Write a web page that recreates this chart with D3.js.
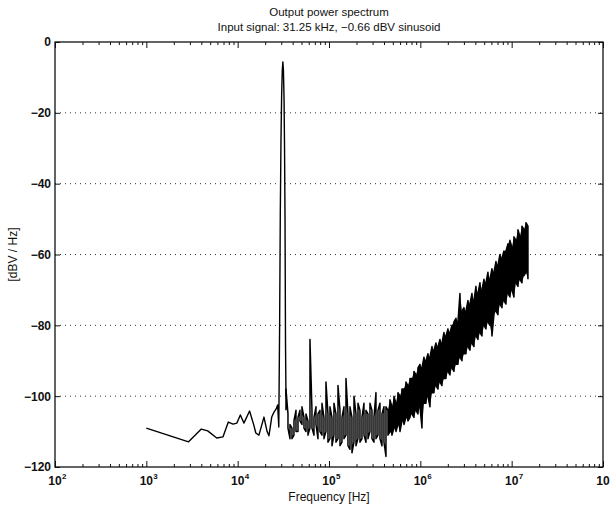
<!DOCTYPE html>
<html>
<head>
<meta charset="utf-8">
<script src="https://cdn.jsdelivr.net/npm/d3@7"></script>
<style>
body { margin: 0; background: #fff; }
text { font-family: "Liberation Sans", Arial, Helvetica, sans-serif; fill: #111; }
</style>
</head>
<body>
<div id="chart"></div>
<script>
// spectrum below the noise floor hump, including the 31.25 kHz tone
var lowFreq = [1000, 2900, 4000, 4700, 5900, 6900, 7900, 8900, 9800, 10700, 11700, 13500, 15000, 15800, 17100,
  19400, 21000, 22000, 23600, 25000, 26400, 27400, 28200, 28800, 29300, 29800, 30300, 30800, 31250, 31700,
  32200, 32600, 33000, 33400, 33800];
var lowDb = [-109, -112.9, -109.3, -109.8, -111.8, -111.5, -107.3, -107.9, -107.6, -105.3, -107.6, -104.2, -108.1, -110.4, -111,
  -105.9, -110, -111.2, -105.9, -104.5, -103.6, -102.5, -108.7, -80, -48, -28, -15, -8, -5.6, -8,
  -16, -30, -50, -85, -100];

// dense part: max / min of the spectrum per display bin
var noiseFreq = [33800, 35550, 37390, 39320, 41350, 43490, 45740, 48100, 50590, 53210,
  55960, 58850, 61890, 65090, 68460, 72000, 75720, 79630, 83750, 88080,
  92640, 97430, 102500, 107800, 113300, 119200, 125400, 131900, 138700, 145800,
  153400, 161300, 169700, 178400, 187700, 197400, 207600, 218300, 229600, 241500,
  254000, 267100, 280900, 295400, 310700, 326800, 343700, 361500, 380200, 399800,
  420500, 442200, 465100, 489200, 514400, 541000, 569000, 598400, 629400, 661900,
  696100, 732100, 770000, 809800, 851700, 895700, 942000, 990700, 1042000, 1096000,
  1152000, 1212000, 1275000, 1341000, 1410000, 1483000, 1560000, 1640000, 1725000, 1814000,
  1908000, 2007000, 2110000, 2220000, 2334000, 2455000, 2582000, 2716000, 2856000, 3004000,
  3159000, 3322000, 3494000, 3675000, 3865000, 4065000, 4275000, 4496000, 4728000, 4973000,
  5230000, 5500000, 5785000, 6084000, 6398000, 6729000, 7077000, 7443000, 7828000, 8232000,
  8658000, 9106000, 9577000, 10070000, 10590000, 11140000, 11720000, 12320000, 12960000, 13630000,
  14340000, 15080000];
var noiseMax = [-98, -105, -108, -109, -107, -104, -106, -104, -103, -106,
  -105, -107, -84, -104, -106, -103, -105, -104, -102, -106,
  -96, -105, -103, -106, -102, -105, -97, -104, -106, -103,
  -95, -105, -103, -106, -100, -105, -102, -104, -106, -102,
  -104, -105, -102, -104, -106, -99, -104, -102, -105, -103,
  -103, -104, -101, -103, -100, -102, -99, -100, -98, -98,
  -96, -97, -95, -95, -93, -94, -92, -91, -92, -89,
  -90, -88, -89, -86, -87, -85, -86, -84, -85, -82,
  -83, -81, -82, -80, -79, -78, -79, -71, -76, -75,
  -76, -73, -74, -71, -73, -69, -71, -68, -70, -67,
  -68, -65, -67, -64, -65, -62, -63, -60, -61, -59,
  -59, -57, -56, -58, -55, -56, -53, -55, -52, -53,
  -51, -52];
var noiseMin = [-104, -109, -112, -112, -111, -110, -110, -107, -108, -109,
  -110, -111, -109, -109, -111, -108, -112, -110, -111, -112,
  -110, -113, -112, -114, -111, -113, -112, -114, -113, -112,
  -111, -114, -115, -116, -113, -114, -112, -113, -112, -111,
  -113, -112, -110, -112, -113, -112, -111, -112, -114, -113,
  -117, -111, -110, -111, -109, -110, -108, -110, -107, -108,
  -106, -107, -106, -105, -106, -104, -105, -103, -109, -102,
  -102, -100, -103, -99, -99, -97, -98, -96, -97, -95,
  -95, -93, -94, -92, -93, -91, -91, -89, -90, -88,
  -88, -86, -87, -85, -86, -83, -84, -82, -83, -80,
  -81, -79, -80, -83, -77, -76, -77, -74, -75, -73,
  -74, -71, -72, -70, -72, -68, -69, -67, -68, -66,
  -65, -67];

var yTicks = [0, -20, -40, -60, -80, -100, -120];
var gridLevels = [-20, -40, -60, -80, -100];
var decades = [2, 3, 4, 5, 6, 7, 8];

var width = 610, height = 506;
var plotL = 55, plotR = 603, plotT = 42, plotB = 467;

var svg = d3.select("#chart").append("svg")
  .attr("width", width)
  .attr("height", height);

var x = d3.scaleLog().domain([1e2, 1e8]).range([plotL, plotR]);
var y = d3.scaleLinear().domain([-120, 0]).range([plotB, plotT]);

// dotted grid
svg.append("g").selectAll("line")
  .data(gridLevels).enter().append("line")
  .attr("x1", plotL).attr("x2", plotR)
  .attr("y1", function (d) { return y(d); })
  .attr("y2", function (d) { return y(d); })
  .attr("stroke", "#333")
  .attr("stroke-width", 1)
  .attr("stroke-dasharray", "1,4");

// ticks (inward on all four sides)
var allX = x.ticks();
var majorX = decades.map(function (k) { return Math.pow(10, k); });
var minorX = allX.filter(function (v) { return majorX.indexOf(v) < 0; });

function xAxis(gen, pos, vals, size) {
  svg.append("g")
    .attr("transform", "translate(0," + pos + ")")
    .call(gen(x).tickValues(vals).tickSize(-size).tickFormat(""))
    .call(function (g) { g.select(".domain").remove(); })
    .selectAll("line").attr("stroke", "#111");
}
xAxis(d3.axisBottom, plotB, minorX, 3);
xAxis(d3.axisBottom, plotB, majorX, 6);
xAxis(d3.axisTop, plotT, minorX, 3);
xAxis(d3.axisTop, plotT, majorX, 6);

var yl = svg.append("g")
  .attr("transform", "translate(" + plotL + ",0)")
  .call(d3.axisLeft(y).tickValues(yTicks).tickSize(-5).tickPadding(4))
  .call(function (g) { g.select(".domain").remove(); });
yl.selectAll("line").attr("stroke", "#111");
yl.selectAll("text")
  .style("font-family", "'Liberation Sans', Arial, sans-serif")
  .style("font-size", "12px")
  .style("font-weight", "bold")
  .attr("fill", "#111");

svg.append("g")
  .attr("transform", "translate(" + plotR + ",0)")
  .call(d3.axisRight(y).tickValues(yTicks).tickSize(-5).tickFormat(""))
  .call(function (g) { g.select(".domain").remove(); })
  .selectAll("line").attr("stroke", "#111");

// frame
svg.append("rect")
  .attr("x", plotL).attr("y", plotT)
  .attr("width", plotR - plotL).attr("height", plotB - plotT)
  .attr("fill", "none").attr("stroke", "#111").attr("stroke-width", 1.3);

// x tick labels 10^k
var xl = svg.append("g").selectAll("g")
  .data(decades).enter().append("g")
  .attr("transform", function (k) { return "translate(" + x(Math.pow(10, k)) + "," + 485 + ")"; });
xl.append("text")
  .attr("text-anchor", "middle")
  .style("font-size", "12px").style("font-weight", "bold")
  .text("10");
xl.append("text")
  .attr("x", 7).attr("y", -6)
  .style("font-size", "8px").style("font-weight", "bold")
  .text(function (k) { return k; });

// spectrum
var line = d3.line()
  .x(function (d) { return x(d[0]); })
  .y(function (d) { return y(d[1]); });

var lowPts = lowFreq.map(function (f, i) { return [f, lowDb[i]]; });
var zig = [];
noiseFreq.forEach(function (f, i) {
  if (i % 2 === 0) { zig.push([f, noiseMin[i]], [f, noiseMax[i]]); }
  else { zig.push([f, noiseMax[i]], [f, noiseMin[i]]); }
});

var bins = noiseFreq.map(function (f, i) { return { f: f, hi: noiseMax[i], lo: noiseMin[i] }; })
  .filter(function (d) { return d.f >= 440000; });
var area = d3.area()
  .x(function (d) { return x(d.f); })
  .y0(function (d) { return y(d.lo); })
  .y1(function (d) { return y(d.hi); });

svg.append("path").datum(bins)
  .attr("d", area)
  .attr("fill", "#000");

svg.append("path").datum(lowPts)
  .attr("d", line)
  .attr("fill", "none").attr("stroke", "#000").attr("stroke-width", 1.4)
  .attr("stroke-linejoin", "round");

svg.append("path").datum(zig)
  .attr("d", line)
  .attr("fill", "none").attr("stroke", "#000").attr("stroke-width", 1.5)
  .attr("stroke-linejoin", "round");

// titles
var cx = (plotL + plotR) / 2;
svg.append("text").attr("x", cx).attr("y", 16)
  .attr("text-anchor", "middle").style("font-size", "11.5px")
  .text("Output power spectrum");
svg.append("text").attr("x", cx).attr("y", 31)
  .attr("text-anchor", "middle").style("font-size", "11.5px")
  .text("Input signal: 31.25 kHz, \u22120.66 dBV sinusoid");
svg.append("text").attr("x", cx).attr("y", 501)
  .attr("text-anchor", "middle").style("font-size", "12px")
  .text("Frequency [Hz]");
svg.append("text")
  .attr("transform", "translate(17," + (plotT + plotB) / 2 + ") rotate(-90)")
  .attr("text-anchor", "middle").style("font-size", "12px")
  .text("[dBV / Hz]");
</script>
</body>
</html>
